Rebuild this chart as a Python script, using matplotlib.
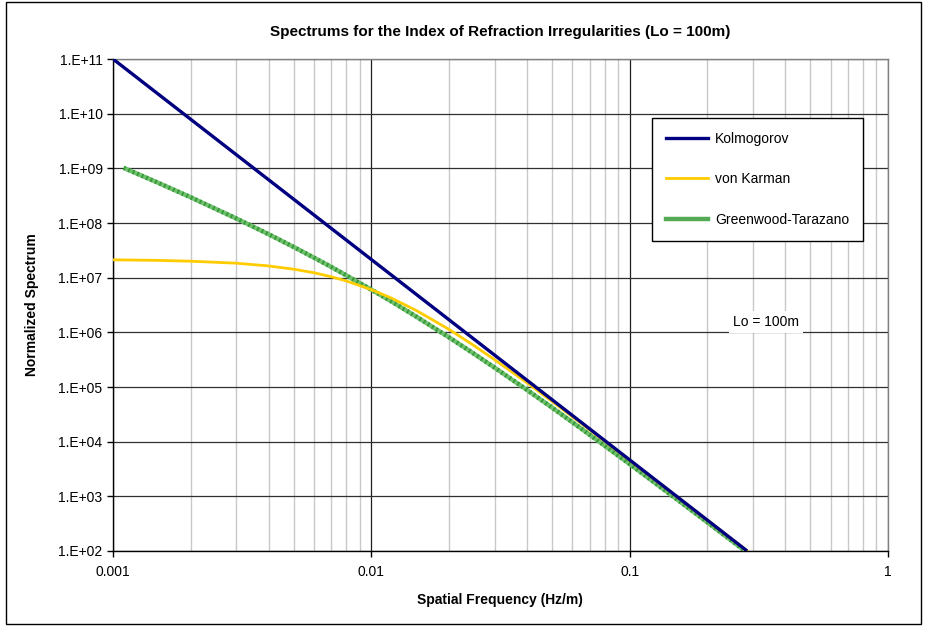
import matplotlib
matplotlib.use("Agg")
import matplotlib.pyplot as plt
from matplotlib.lines import Line2D
from matplotlib.patches import Rectangle
from matplotlib.ticker import FixedLocator, FixedFormatter, NullFormatter, LogLocator

plt.rcParams['font.family'] = ['Liberation Sans', 'DejaVu Sans']

# ---- data ----
kolmogorov_freq = [0.001, 0.01, 0.1, 0.285]
kolmogorov_vals = [1.0e11, 2.15e7, 4.64e3, 1.0e2]

karman_freq = [0.001, 0.0015, 0.002, 0.003, 0.004, 0.005, 0.006, 0.007, 0.008, 0.01,
               0.012, 0.015, 0.02, 0.025, 0.03, 0.04, 0.05, 0.07, 0.1, 0.15, 0.2, 0.285]
karman_vals = [2.12e7, 2.07e7, 2.00e7, 1.84e7, 1.64e7, 1.43e7, 1.23e7, 1.04e7, 8.70e6, 6.04e6,
               4.20e6, 2.48e6, 1.13e6, 5.70e5, 3.16e5, 1.20e5, 5.49e4, 1.65e4, 4.56e3, 1.04e3, 3.64e2, 1.0e2]

gt_freq = [0.0011, 0.0015, 0.002, 0.003, 0.004, 0.005, 0.006, 0.007, 0.008, 0.01,
           0.012, 0.015, 0.02, 0.025, 0.03, 0.04, 0.05, 0.07, 0.1, 0.15, 0.2, 0.28]
gt_vals = [1.02e9, 5.40e8, 2.95e8, 1.21e8, 6.24e7, 3.65e7, 2.32e7, 1.57e7, 1.10e7, 6.04e6,
           3.64e6, 1.91e6, 8.07e5, 4.04e5, 2.26e5, 8.87e4, 4.22e4, 1.34e4, 3.90e3, 9.32e2, 3.34e2, 1.0e2]

x_ticks = [0.001, 0.01, 0.1, 1]
x_tick_labels = ['0.001', '0.01', '0.1', '1']
y_ticks = [1e2, 1e3, 1e4, 1e5, 1e6, 1e7, 1e8, 1e9, 1e10, 1e11]
y_tick_labels = ['1.E+02', '1.E+03', '1.E+04', '1.E+05', '1.E+06', '1.E+07',
                 '1.E+08', '1.E+09', '1.E+10', '1.E+11']

series_names = ['Kolmogorov', 'von Karman', 'Greenwood-Tarazano']

title = 'Spectrums for the Index of Refraction Irregularities (Lo = 100m)'
xlabel = 'Spatial Frequency (Hz/m)'
ylabel = 'Normalized Spectrum'
note = 'Lo = 100m'

# ---- layout ----
W, H = 933, 634
fig = plt.figure(figsize=(W / 100, H / 100), dpi=100)
fig.patch.set_facecolor('white')

# chart-area border
fig.add_artist(Rectangle((6 / W, 1 - 624 / H), (921 - 6) / W, (624 - 2) / H,
                         transform=fig.transFigure, fill=False, edgecolor='black', lw=1.0))

L, R, T, B = 113, 888, 59, 551
ax = fig.add_axes([L / W, 1 - B / H, (R - L) / W, (B - T) / H])
ax.set_xscale('log')
ax.set_yscale('log')
ax.set_xlim(0.001, 1)
ax.set_ylim(1e2, 1e11)

# grid
ax.xaxis.set_minor_locator(LogLocator(base=10, subs=range(2, 10)))
ax.grid(which='minor', axis='x', color='#c8c8c8', lw=1.0)
ax.grid(which='major', axis='x', color='#202020', lw=0.9)
ax.grid(which='major', axis='y', color='#303030', lw=0.9)
ax.set_axisbelow(True)

ax.xaxis.set_major_locator(FixedLocator(x_ticks))
ax.xaxis.set_major_formatter(FixedFormatter(x_tick_labels))
ax.xaxis.set_minor_formatter(NullFormatter())
ax.yaxis.set_major_locator(FixedLocator(y_ticks))
ax.yaxis.set_major_formatter(FixedFormatter(y_tick_labels))
ax.yaxis.set_minor_locator(FixedLocator([]))
ax.tick_params(axis='both', which='major', direction='out', length=4, width=1,
               labelsize=10, color='black')
ax.tick_params(axis='x', which='minor', length=0)
ax.tick_params(axis='x', pad=6)

for s in ['left', 'bottom']:
    ax.spines[s].set_color('black')
    ax.spines[s].set_linewidth(1.0)
for s in ['right', 'top']:
    ax.spines[s].set_color('#808080')
    ax.spines[s].set_linewidth(1.0)

# series
ax.plot(kolmogorov_freq, kolmogorov_vals, color='#000080', lw=2.4,
        solid_capstyle='butt', zorder=5)
ax.plot(karman_freq, karman_vals, color='#FFCC00', lw=2.0, zorder=4)
ax.plot(gt_freq, gt_vals, color='#70c070', lw=3.2, solid_capstyle='butt', zorder=3)
ax.plot(gt_freq, gt_vals, color='#339933', lw=3.2, ls=(0, (0.4, 0.7)),
        solid_capstyle='butt', dash_capstyle='butt', zorder=3)

# legend
handles = [
    Line2D([], [], color='#000080', lw=2.4),
    Line2D([], [], color='#FFCC00', lw=2.0),
    Line2D([], [], color='#55aa55', lw=3.2),
]
leg = fig.legend(handles, series_names, loc='upper right',
                 bbox_to_anchor=(863 / W, 1 - 118 / H), fontsize=10,
                 frameon=True, fancybox=False, shadow=False, framealpha=1,
                 edgecolor='black', handlelength=3.0, handletextpad=0.5,
                 labelspacing=1.9, borderpad=1.0, borderaxespad=0)
leg.get_frame().set_linewidth(1.0)

# note
ax.text(766 / W, 1 - 322 / H, note, transform=fig.transFigure, ha='center', va='center',
        fontsize=10, bbox=dict(facecolor='white', edgecolor='none', pad=3), zorder=6)

# titles
fig.text(500 / W, 1 - 32 / H, title, ha='center', va='center', fontsize=11, fontweight='bold')
fig.text(500 / W, 1 - 600 / H, xlabel, ha='center', va='center', fontsize=10, fontweight='bold')
fig.text(32 / W, 1 - 305 / H, ylabel, ha='center', va='center', fontsize=10,
         fontweight='bold', rotation=90)

fig.savefig('out.png', dpi=100, facecolor='white')
